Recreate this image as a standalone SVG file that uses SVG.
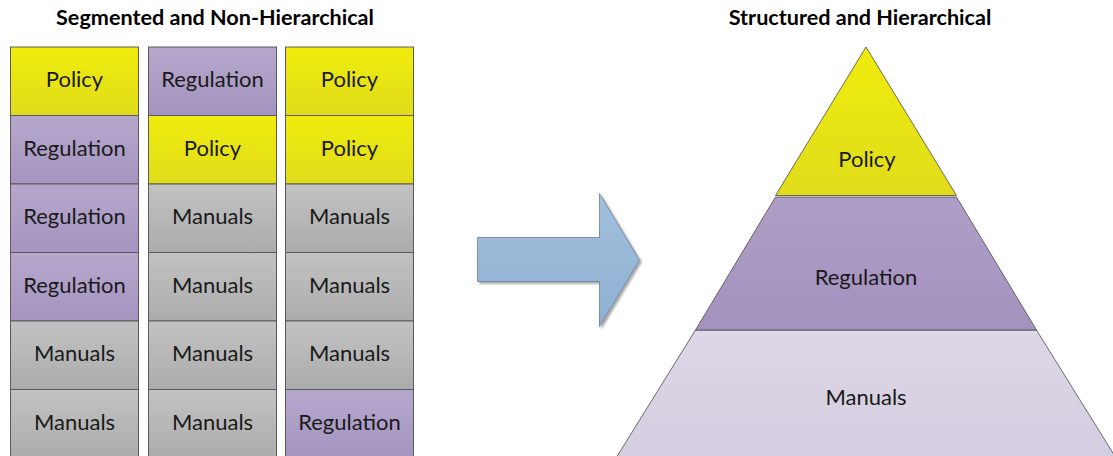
<svg xmlns="http://www.w3.org/2000/svg" width="1113" height="456" viewBox="0 0 1113 456">
  <defs>
    <linearGradient id="gPolicy" x1="0" y1="0" x2="0" y2="1">
      <stop offset="0" stop-color="#f0ec0c"/>
      <stop offset="1" stop-color="#e0dc1c"/>
    </linearGradient>
    <linearGradient id="gReg" x1="0" y1="0" x2="0" y2="1">
      <stop offset="0" stop-color="#b5a8cc"/>
      <stop offset="1" stop-color="#a494c0"/>
    </linearGradient>
    <linearGradient id="gMan" x1="0" y1="0" x2="0" y2="1">
      <stop offset="0" stop-color="#c2c2c2"/>
      <stop offset="1" stop-color="#acacac"/>
    </linearGradient>
    <linearGradient id="gPyrPolicy" x1="0" y1="0" x2="0" y2="1">
      <stop offset="0" stop-color="#f0ec0c"/>
      <stop offset="1" stop-color="#e0dc1c"/>
    </linearGradient>
    <linearGradient id="gPyrReg" x1="0" y1="0" x2="0" y2="1">
      <stop offset="0" stop-color="#ae9ec7"/>
      <stop offset="1" stop-color="#a392be"/>
    </linearGradient>
    <linearGradient id="gPyrMan" x1="0" y1="0" x2="0" y2="1">
      <stop offset="0" stop-color="#ddd7e7"/>
      <stop offset="1" stop-color="#d4cddf"/>
    </linearGradient>
    <linearGradient id="gArrow" x1="0" y1="0" x2="0" y2="1">
      <stop offset="0" stop-color="#a2c0dc"/>
      <stop offset="1" stop-color="#8eb0d2"/>
    </linearGradient>
    <filter id="shadow" x="-10%" y="-10%" width="130%" height="130%">
      <feGaussianBlur in="SourceAlpha" stdDeviation="1.2"/>
      <feOffset dx="1.5" dy="2" result="b"/>
      <feComponentTransfer><feFuncA type="linear" slope="0.35"/></feComponentTransfer>
      <feMerge><feMergeNode/><feMergeNode in="SourceGraphic"/></feMerge>
    </filter>
  </defs>
  <style>
    .title { font-family: Lato, "Liberation Sans", sans-serif; font-weight: bold; font-size: 21.6px; fill: #000; text-anchor: middle; }
    .lbl { font-family: Lato, "Liberation Sans", sans-serif; font-size: 22px; fill: #1a1a1a; text-anchor: middle; }
    .cell { stroke: #5a5a5a; stroke-width: 1; }
    .policy { fill: url(#gPolicy); }
    .reg { fill: url(#gReg); }
    .man { fill: url(#gMan); }
    .tier { stroke: #4a4a4a; stroke-width: 0.8; }
  </style>

  <!-- headings -->
  <text class="title" x="215" y="25">Segmented and Non-Hierarchical</text>
  <text class="title" x="860" y="25">Structured and Hierarchical</text>

  <!-- column 1 -->
  <g id="col1">
    <g id="c1r1"><rect class="cell policy" x="10.5" y="47" width="128" height="68.5"/><text class="lbl" x="74.5" y="87">Policy</text></g>
    <g id="c1r2"><rect class="cell reg" x="10.5" y="115.5" width="128" height="68.5"/><text class="lbl" x="74.5" y="156">Regulation</text></g>
    <g id="c1r3"><rect class="cell reg" x="10.5" y="184" width="128" height="68.5"/><text class="lbl" x="74.5" y="224">Regulation</text></g>
    <g id="c1r4"><rect class="cell reg" x="10.5" y="252.5" width="128" height="68.5"/><text class="lbl" x="74.5" y="293">Regulation</text></g>
    <g id="c1r5"><rect class="cell man" x="10.5" y="321" width="128" height="68.5"/><text class="lbl" x="74.5" y="361">Manuals</text></g>
    <g id="c1r6"><rect class="cell man" x="10.5" y="389.5" width="128" height="68.5"/><text class="lbl" x="74.5" y="430">Manuals</text></g>
  </g>

  <!-- column 2 -->
  <g id="col2">
    <g id="c2r1"><rect class="cell reg" x="148.5" y="47" width="128" height="68.5"/><text class="lbl" x="212.5" y="87">Regulation</text></g>
    <g id="c2r2"><rect class="cell policy" x="148.5" y="115.5" width="128" height="68.5"/><text class="lbl" x="212.5" y="156">Policy</text></g>
    <g id="c2r3"><rect class="cell man" x="148.5" y="184" width="128" height="68.5"/><text class="lbl" x="212.5" y="224">Manuals</text></g>
    <g id="c2r4"><rect class="cell man" x="148.5" y="252.5" width="128" height="68.5"/><text class="lbl" x="212.5" y="293">Manuals</text></g>
    <g id="c2r5"><rect class="cell man" x="148.5" y="321" width="128" height="68.5"/><text class="lbl" x="212.5" y="361">Manuals</text></g>
    <g id="c2r6"><rect class="cell man" x="148.5" y="389.5" width="128" height="68.5"/><text class="lbl" x="212.5" y="430">Manuals</text></g>
  </g>

  <!-- column 3 -->
  <g id="col3">
    <g id="c3r1"><rect class="cell policy" x="285.5" y="47" width="128" height="68.5"/><text class="lbl" x="349.5" y="87">Policy</text></g>
    <g id="c3r2"><rect class="cell policy" x="285.5" y="115.5" width="128" height="68.5"/><text class="lbl" x="349.5" y="156">Policy</text></g>
    <g id="c3r3"><rect class="cell man" x="285.5" y="184" width="128" height="68.5"/><text class="lbl" x="349.5" y="224">Manuals</text></g>
    <g id="c3r4"><rect class="cell man" x="285.5" y="252.5" width="128" height="68.5"/><text class="lbl" x="349.5" y="293">Manuals</text></g>
    <g id="c3r5"><rect class="cell man" x="285.5" y="321" width="128" height="68.5"/><text class="lbl" x="349.5" y="361">Manuals</text></g>
    <g id="c3r6"><rect class="cell reg" x="285.5" y="389.5" width="128" height="68.5"/><text class="lbl" x="349.5" y="430">Regulation</text></g>
  </g>

  <!-- transition arrow -->
  <g id="connectors">
    <path id="arrow" d="M477.5,237.5 H599.5 V193.5 L639.5,260 L599.5,326.5 V281.5 H477.5 Z"
          fill="url(#gArrow)" stroke="#6a7f95" stroke-width="0.8" filter="url(#shadow)"/>
  </g>

  <!-- pyramid -->
  <g id="pyramid">
    <g id="tierManuals">
      <path class="tier" d="M695.5,330 L1036.5,330 L1116,458 L616,458 Z" fill="url(#gPyrMan)"/>
      <text class="lbl" x="866" y="405">Manuals</text>
    </g>
    <g id="tierRegulation">
      <path class="tier" d="M775.5,197 L956.5,197 L1036.5,330 L695.5,330 Z" fill="url(#gPyrReg)"/>
      <text class="lbl" x="866" y="285">Regulation</text>
    </g>
    <g id="tierPolicy">
      <path class="tier" d="M866,47 L956.5,195.5 L775.5,195.5 Z" fill="url(#gPyrPolicy)"/>
      <text class="lbl" x="867" y="167">Policy</text>
    </g>
  </g>
</svg>
